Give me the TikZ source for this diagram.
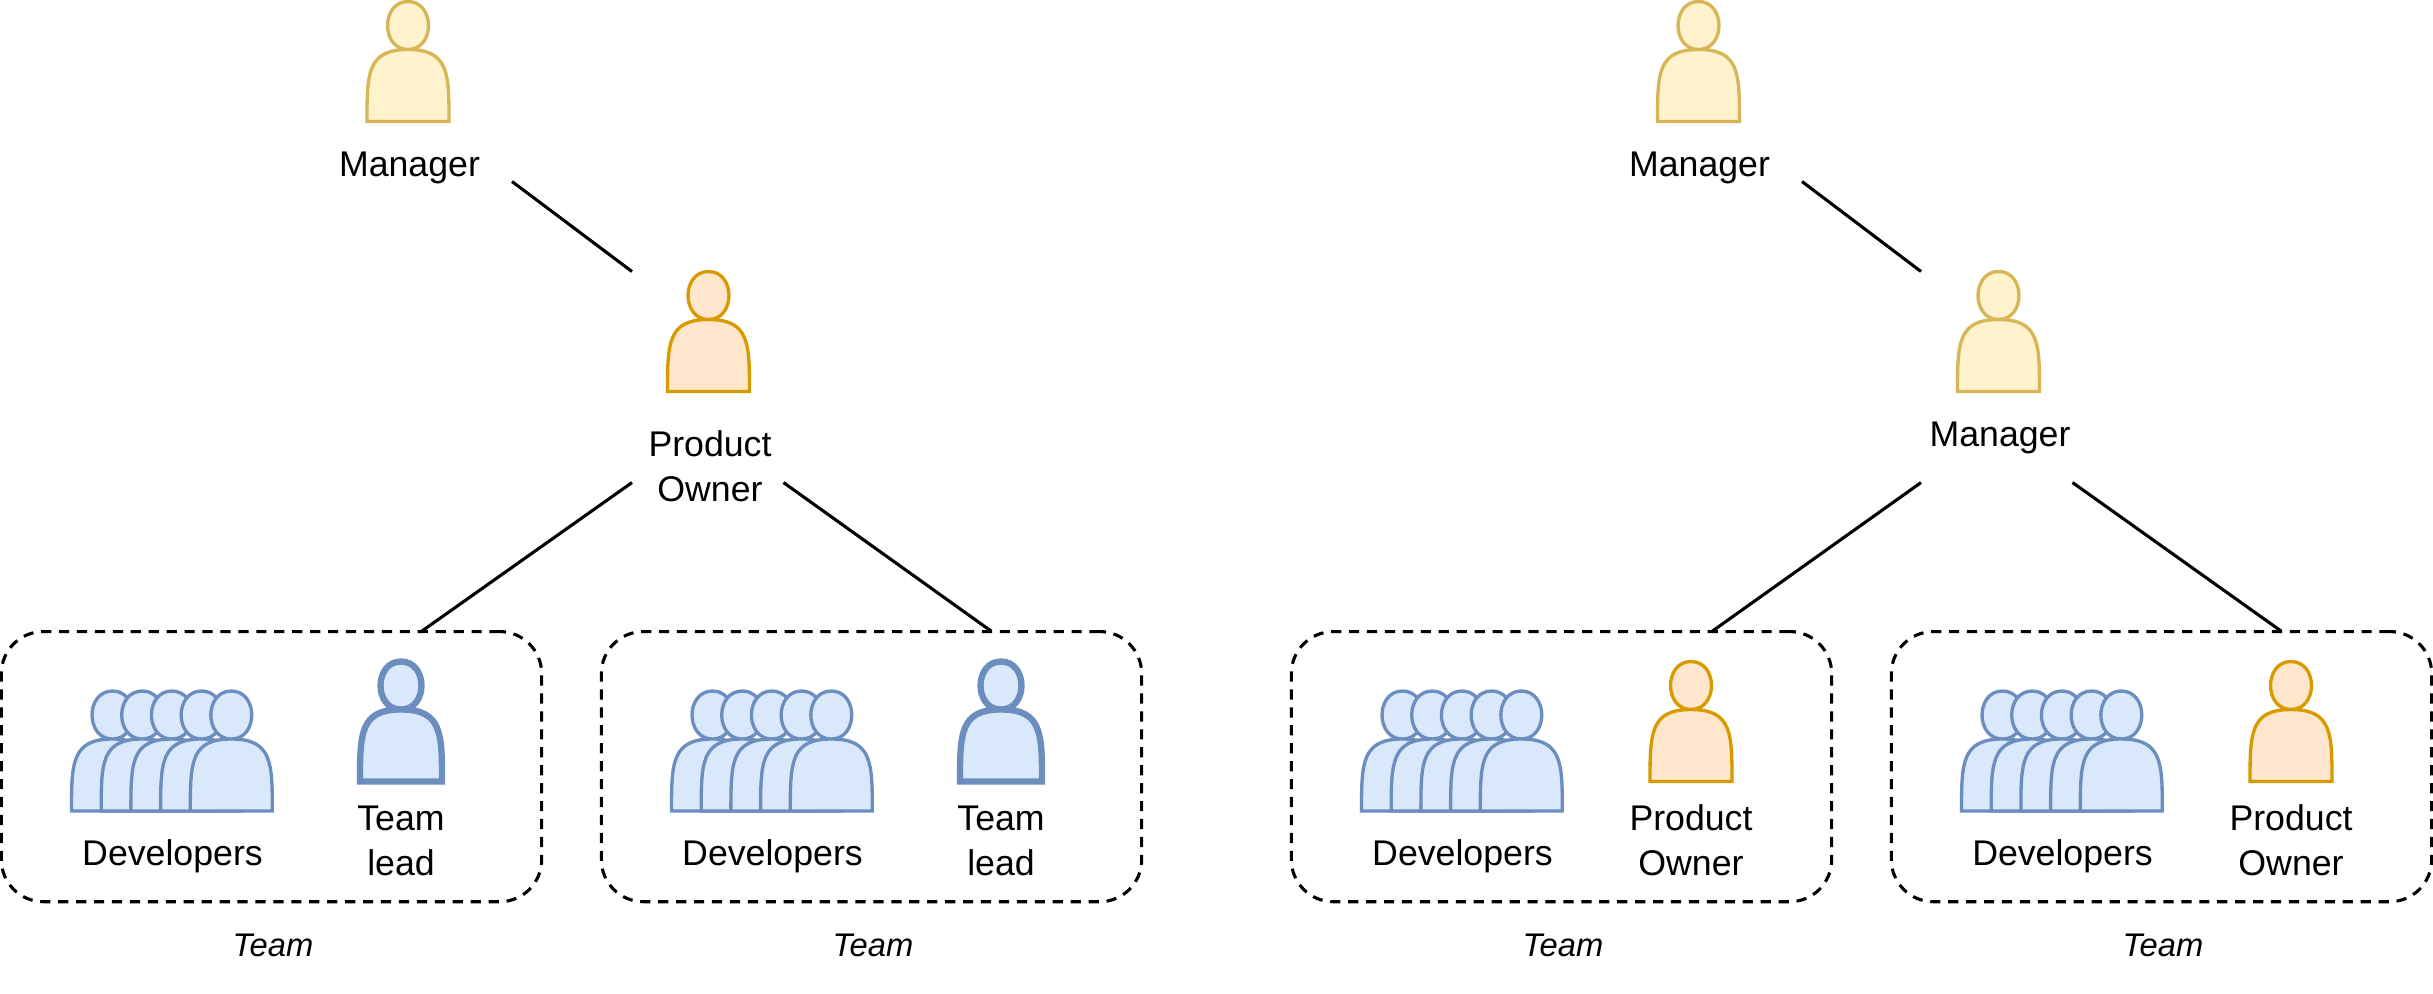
\documentclass[tikz,border=0pt]{standalone}
\usepackage{fontspec}
\setmainfont{Liberation Sans}
\definecolor{mgrfill}{HTML}{FFF2CC}
\definecolor{mgredge}{HTML}{D6B656}
\definecolor{pofill}{HTML}{FFE6CC}
\definecolor{poedge}{HTML}{D79B00}
\definecolor{devfill}{HTML}{DAE8FC}
\definecolor{devedge}{HTML}{6C8EBF}
\tikzset{
    actor/.pic={
        \draw[pic actions] (-41,120) .. controls (-41,72) and (-41,48) .. (0,48)
            .. controls (-27.3,48) and (-27.3,0) .. (0,0)
            .. controls (27.3,0) and (27.3,48) .. (0,48)
            .. controls (41,48) and (41,72) .. (41,120) -- cycle;
    },
    mgractor/.style={draw=mgredge,fill=mgrfill,line width=0.95pt},
    poactor/.style={draw=poedge,fill=pofill,line width=0.95pt},
    devactor/.style={draw=devedge,fill=devfill,line width=0.95pt},
    leadactor/.style={draw=devedge,fill=devfill,line width=1.8pt},
    caption/.style={font=\fontsize{10.15pt}{12.8pt}\selectfont,align=center,inner sep=0pt},
    group/.style={inner sep=0pt,anchor=north west},
    teambox/.style={draw,dashed,line width=0.88pt,rounded corners=0.42cm,inner sep=0pt,
        minimum width=5.4cm,minimum height=2.7cm,anchor=north west,
        dash pattern=on 2.9pt off 2.2pt},
    link/.style={line width=0.88pt}
}
\begin{document}
\begin{tikzpicture}[x=0.01cm,y=-0.01cm]
    \useasboundingbox (0,0) rectangle (2433,993);
    %% Left and right top levels
    \node[group,minimum width=2.065cm,minimum height=1.80cm] (mgrA) at (304,0) {};
    \pic[mgractor] (mgrAicon) at (408,1.5) {actor};
    \node[caption] (mgrAtext) at (409.5,167.5) {Manager};
    \node[group,minimum width=1.5cm,minimum height=2.095cm] (poA) at (632,271.5) {};
    \pic[poactor] (poAicon) at (708.5,271.5) {actor};
    \node[caption] (poAtext) at (710,466) {Product\\Owner};
    \node[group,minimum width=2.065cm,minimum height=1.80cm] (mgrB) at (1594,0) {};
    \pic[mgractor] (mgrBicon) at (1698.5,1.5) {actor};
    \node[caption] (mgrBtext) at (1699.5,167.5) {Manager};
    \node[group,minimum width=1.5cm,minimum height=2.095cm] (mgrC) at (1921,271.5) {};
    \pic[mgractor] (mgrCicon) at (1998.5,271.5) {actor};
    \node[caption] (mgrCtext) at (2000,437.5) {Manager};
    %% Teams
    \foreach \tm/\xo/\who/\whotext in {
        teamA/1/leadactor/{Team\\lead},
        teamB/601/leadactor/{Team\\lead},
        teamC/1291/poactor/{Product\\Owner},
        teamD/1891/poactor/{Product\\Owner}} {
        \node[teambox] (\tm) at (\xo-1.2,630) {};
        \foreach \i in {0,...,4}
            \pic[devactor] (\tm dev\i) at ({\xo+111.5+29.7*\i},691) {actor};
        \node[caption] (\tm devtext) at (\xo+171.5,856.5) {Developers};
        \pic[\who] (\tm lead) at (\xo+400,661.5) {actor};
        \node[caption] (\tm leadtext) at (\xo+400,840.5) {\whotext};
        \node[caption,font=\fontsize{9.3pt}{12.8pt}\selectfont\itshape] (\tm label) at (\xo+272,945) {Team};
    }
    %% Links
    \coordinate (tipA) at (422,631);
    \coordinate (tipB) at (991,631);
    \coordinate (tipC) at (1712.5,631);
    \coordinate (tipD) at (2281,631);
    \draw[link] (mgrA.south east) -- (poA.north west);
    \draw[link] (poA.south west) -- (tipA);
    \draw[link] (poA.south east) -- (tipB);
    \draw[link] (mgrB.south east) -- (mgrC.north west);
    \draw[link] (mgrC.south west) -- (tipC);
    \draw[link] (mgrC.south east) -- (tipD);
\end{tikzpicture}
\end{document}
